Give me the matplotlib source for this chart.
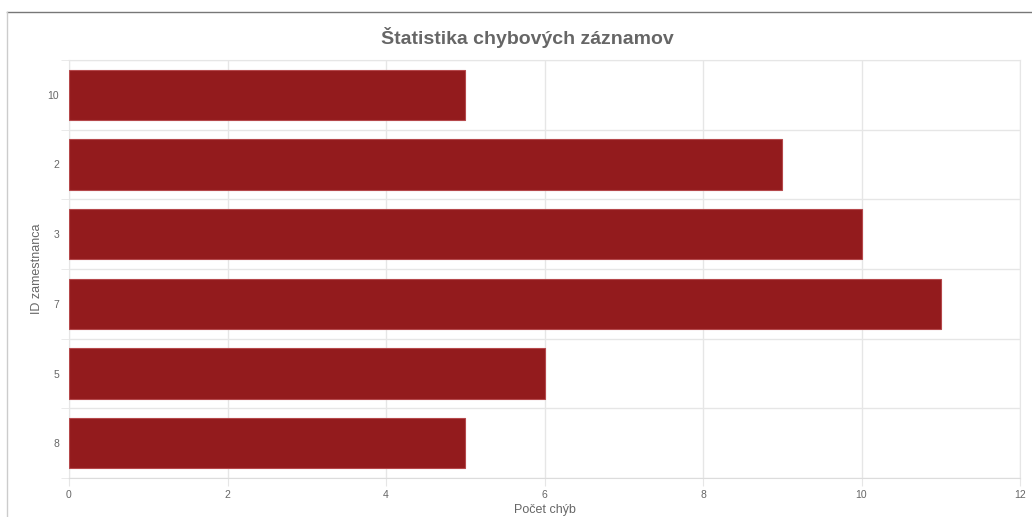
import numpy as np
import matplotlib.pyplot as plt
from matplotlib.lines import Line2D

# Data
employee_ids = ['10', '2', '3', '7', '5', '8']
error_counts = [5, 9, 10, 11, 6, 5]

plt.rcParams['font.family'] = ['Liberation Sans', 'DejaVu Sans']

grid_color = '#e6e6e6'
text_color = '#666666'

W, H = 1032, 517
fig = plt.figure(figsize=(W / 100, H / 100), dpi=100)
ax = fig.add_axes([69 / W, 1 - 478 / H, (1020 - 69) / W, (478 - 60) / H])

y = np.arange(len(employee_ids))
ax.barh(y, error_counts, height=0.72, color='#931b1d', edgecolor='#b5484b',
        linewidth=0.8, zorder=3)

ax.set_xlim(0, 12)
ax.set_ylim(len(employee_ids) - 0.5, -0.5)
ax.set_xticks(np.arange(0, 13, 2))
ax.set_yticks(y)
ax.set_yticklabels(employee_ids)
ax.set_yticks(np.arange(-0.5, len(employee_ids)), minor=True)

ax.grid(axis='x', which='major', color=grid_color, linewidth=1, zorder=0)
ax.grid(axis='y', which='minor', color=grid_color, linewidth=1, zorder=0)
ax.tick_params(axis='x', which='major', length=6, color=grid_color, labelsize=7.5,
               labelcolor=text_color, pad=3)
ax.tick_params(axis='y', which='major', length=0, labelsize=7.5,
               labelcolor=text_color, pad=7)
ax.tick_params(axis='y', which='minor', length=6, color=grid_color)

for s in ax.spines.values():
    s.set_color(grid_color)
ax.spines['bottom'].set_color('#dcdcdc')

ax.set_xlabel('Počet chýb', fontsize=9, color=text_color)
ax.set_ylabel('ID zamestnanca', fontsize=9, color=text_color)
ax.xaxis.set_label_coords(0.5, (478 - 510) / 418)
ax.yaxis.set_label_coords((37 - 69) / 951, 0.5)
ax.xaxis.label.set_va('center')
ax.yaxis.label.set_va('center')

fig.text(527 / W, 1 - 38 / H, 'Štatistika chybových záznamov', ha='center', va='center',
         fontsize=14, fontweight='bold', color=text_color)

# page border
fig.add_artist(Line2D([7 / W, 1], [1 - 12 / H] * 2, color='#777777', linewidth=1,
                      transform=fig.transFigure))
fig.add_artist(Line2D([7 / W] * 2, [0, 1 - 12 / H], color='#cccccc', linewidth=1,
                      transform=fig.transFigure))

fig.savefig('out.png', dpi=100)
